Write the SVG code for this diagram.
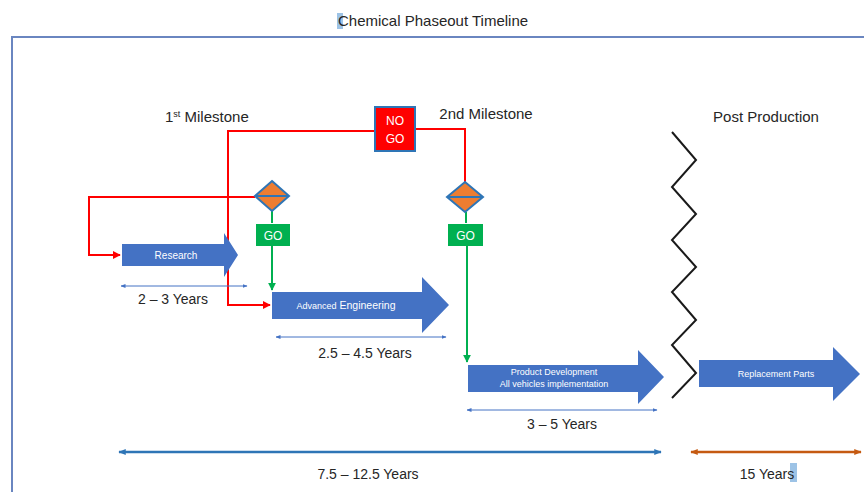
<svg xmlns="http://www.w3.org/2000/svg" width="864" height="492" viewBox="0 0 864 492">
<defs>
<style>
.t{font-family:"Liberation Sans",Arial,sans-serif;fill:#262626}
.h{font-size:15px}
.w{font-family:"Liberation Sans",Arial,sans-serif;fill:#ffffff;text-anchor:middle}
.blk{fill:#4472c4}
.red{fill:none;stroke:#ff0000;stroke-width:2}
.grn{fill:none;stroke:#00b050;stroke-width:2}
.dim{fill:none;stroke:#4472c4;stroke-width:1}
.dia{fill:#ed7d31;stroke:#2e75b6;stroke-width:2}
</style>
<marker id="ar" viewBox="0 0 10 10" refX="9" refY="5" markerWidth="4" markerHeight="4" orient="auto"><path d="M0,0 L10,5 L0,10 Z" fill="#ff0000"/></marker>
<marker id="ag" viewBox="0 0 10 10" refX="9" refY="5" markerWidth="4" markerHeight="4" orient="auto"><path d="M0,0 L10,5 L0,10 Z" fill="#00b050"/></marker>
<marker id="ab" viewBox="0 0 10 10" refX="9" refY="5" markerWidth="5" markerHeight="5" orient="auto-start-reverse"><path d="M0,1 L10,5 L0,9 Z" fill="#4472c4"/></marker>
<marker id="ab2" viewBox="0 0 10 10" refX="9" refY="5" markerWidth="3" markerHeight="3" orient="auto-start-reverse"><path d="M0,1 L10,5 L0,9 Z" fill="#2e75b6"/></marker>
<marker id="ao" viewBox="0 0 10 10" refX="9" refY="5" markerWidth="3" markerHeight="3" orient="auto-start-reverse"><path d="M0,1 L10,5 L0,9 Z" fill="#c55a11"/></marker>
</defs>
<rect width="864" height="492" fill="#ffffff"/>
<path d="M12,492 V37 H864" fill="none" stroke="#6a86c0" stroke-width="2"/>
<rect x="337" y="13" width="6" height="16" fill="#9dc3e6"/>
<text class="t h" x="338" y="26">Chemical Phaseout Timeline</text>

<g id="labels">
<text class="t h" x="165" y="122">1<tspan font-size="9" dy="-5">st</tspan><tspan dy="5"> Milestone</tspan></text>
<text class="t h" x="486" y="119" text-anchor="middle">2nd Milestone</text>
<text class="t h" x="766" y="122" text-anchor="middle">Post Production</text>
</g>

<g id="connectors">
<path class="red" d="M376,131 H228 V305 H270" marker-end="url(#ar)"/>
<path class="red" d="M255,197 H89 V255 H120" marker-end="url(#ar)"/>
<path class="red" d="M415,129 H465 V182"/>
<path class="grn" d="M272,211 V223"/>
<path class="grn" d="M272,246 V290" marker-end="url(#ag)"/>
<path class="grn" d="M466,212 V223"/>
<path class="grn" d="M467,246 V362" marker-end="url(#ag)"/>
<path d="M672,132 L696,160 L672,187 L696,214 L672,240 L696,267 L672,292 L696,320 L672,345 L696,373 L672,398" fill="none" stroke="#1a1a1a" stroke-width="2"/>
<path class="dim" d="M121,286 H247" marker-start="url(#ab)" marker-end="url(#ab)"/>
<path class="dim" d="M276,337 H446" marker-start="url(#ab)" marker-end="url(#ab)"/>
<path class="dim" d="M467,410 H657" marker-start="url(#ab)" marker-end="url(#ab)"/>
<path d="M119,452 H661" fill="none" stroke="#2e75b6" stroke-width="2.5" marker-start="url(#ab2)" marker-end="url(#ab2)"/>
<path d="M691,452 H861" fill="none" stroke="#c55a11" stroke-width="2.5" marker-start="url(#ao)" marker-end="url(#ao)"/>
</g>

<g id="nogo">
<rect x="375" y="107" width="40" height="44" fill="#ff0000" stroke="#2e75b6" stroke-width="2"/>
<text class="w" x="395" y="125" font-size="12">NO</text>
<text class="w" x="395" y="143" font-size="12">GO</text>
</g>

<g id="decision1">
<path class="dia" d="M272,181 L289,196 L272,211 L255,196 Z"/>
<path d="M256,196 H288" stroke="#2e75b6" stroke-width="2"/>
</g>
<g id="go1">
<rect x="256" y="224" width="34" height="22" fill="#00b050"/>
<text class="w" x="273" y="240" font-size="12">GO</text>
</g>

<g id="decision2">
<path class="dia" d="M465,182 L483,197 L465,212 L447,197 Z"/>
<path d="M448,197 H482" stroke="#2e75b6" stroke-width="2"/>
</g>
<g id="go2">
<rect x="448" y="224" width="35" height="22" fill="#00b050"/>
<text class="w" x="465.5" y="240" font-size="12">GO</text>
</g>

<g id="research">
<path class="blk" d="M122,244 H224 V233 L238,255 L224,277 V266 H122 Z"/>
<text class="w" x="176" y="259" font-size="10">Research</text>
<text class="t" x="173" y="304" font-size="14" text-anchor="middle">2 – 3 Years</text>
</g>

<g id="advanced">
<path class="blk" d="M272,292 H422 V277 L449,305 L422,333 V319 H272 Z"/>
<text class="w" x="346" y="309"><tspan font-size="9">Advanced</tspan><tspan font-size="10.5"> Engineering</tspan></text>
<text class="t" x="365" y="358" font-size="14" text-anchor="middle">2.5 – 4.5 Years</text>
</g>

<g id="product">
<path class="blk" d="M468,365 H638 V350 L664,377 L638,404 V392 H468 Z"/>
<text class="w" x="554" y="375" font-size="9">Product Development</text>
<text class="w" x="554" y="387" font-size="9">All vehicles implementation</text>
<text class="t" x="562" y="429" font-size="14" text-anchor="middle">3 – 5 Years</text>
</g>

<g id="replacement">
<path class="blk" d="M699,360 H833 V347 L860,374 L833,401 V387 H699 Z"/>
<text class="w" x="776" y="377" font-size="9">Replacement Parts</text>
</g>

<g id="totals">
<text class="t" x="368" y="479" font-size="14" text-anchor="middle">7.5 – 12.5 Years</text>
<rect x="790" y="463" width="7" height="19" fill="#9dc3e6"/>
<text class="t" x="767" y="479" font-size="14" text-anchor="middle">15 Years</text>
</g>
</svg>
